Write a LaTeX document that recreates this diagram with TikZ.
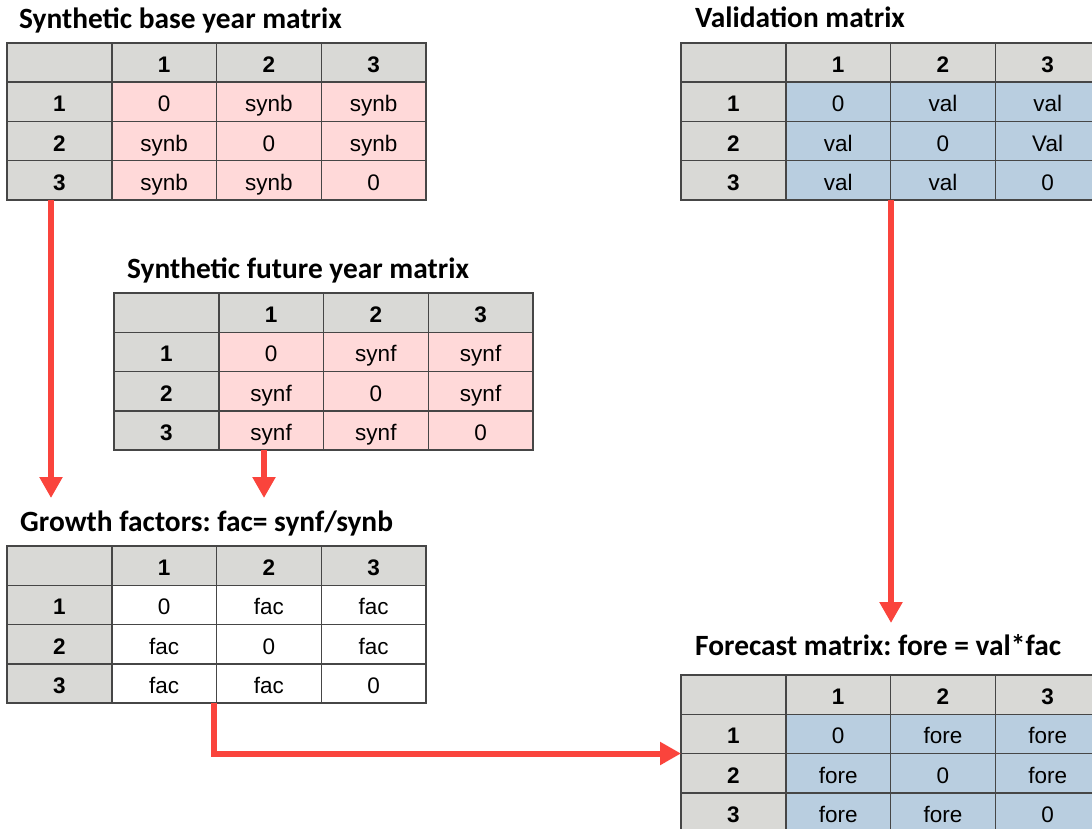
\documentclass[tikz,border=0pt]{standalone}
\usepackage{fontspec}
\setmainfont{Liberation Sans}
\newfontfamily\titlefont{Carlito}
\usetikzlibrary{arrows.meta}
\frenchspacing

\definecolor{hdr}{RGB}{217,217,214}
\definecolor{pinkcell}{RGB}{255,217,217}
\definecolor{bluecell}{RGB}{185,206,224}
\definecolor{rulegray}{RGB}{70,70,70}
\definecolor{flowred}{RGB}{250,68,60}

\tikzset{
  cell/.style={draw=rulegray, line width=1.5pt, minimum width=104.75pt,
    minimum height=39.25pt, inner sep=0pt, outer sep=0pt, anchor=north west,
    text height=20pt, text depth=0pt, font=\fontsize{22.5}{27}\selectfont},
  headcell/.style={cell, fill=hdr, font=\fontsize{22.5}{27}\selectfont\bfseries},
  title/.style={anchor=base west, inner sep=0pt,
    font=\titlefont\bfseries\fontsize{29.4}{34}\selectfont},
  flow/.style={draw=flowred, line width=6pt, line join=miter,
    -{Triangle[width=22pt,length=21pt]}},
}

% 4x4 table: grey header row and column, 3x3 body filled with #4
% #1 name prefix, #2 left, #3 top, #4 body fill, #5 nine body entries
\newcommand\gridtable[5]{%
  \node[headcell] (#1-0-0) at (#2,#3) {};
  \foreach \cc in {1,2,3}{
    \node[headcell] (#1-0-\cc) at ({#2+\cc*104.75},#3) {\cc};
  }
  \foreach \vv [count=\kk from 0] in {#5}{
    \pgfmathtruncatemacro\rowi{int(\kk/3)+1}
    \pgfmathtruncatemacro\coli{mod(\kk,3)+1}
    \node[cell, fill=#4] (#1-\rowi-\coli) at ({#2+\coli*104.75},{#3+\rowi*39.25}) {\vv};
  }
  \foreach \rr in {1,2,3}{
    \node[headcell] (#1-\rr-0) at (#2,{#3+\rr*39.25}) {\rr};
  }
}

\begin{document}
\begin{tikzpicture}[x=1pt,y=-1pt]
\clip (0,0) rectangle (1092,829);
\fill[white] (0,0) rectangle (1092,829);

% titles
\node[title] (basetitle) at (19,29) {Synthetic base year matrix};
\node[title] (valtitle) at (695,28) {Validation matrix};
\node[title] (futtitle) at (127,278) {Synthetic future year matrix};
\node[title] (grotitle) at (20,531) {Growth factors: fac= synf/synb};
\node[title] (foretitle) at (695,655) {Forecast matrix: fore = val*fac};

% tables
\gridtable{base}{7}{43}{pinkcell}{0,synb,synb,synb,0,synb,synb,synb,0}
\gridtable{val}{681}{43}{bluecell}{0,val,val,val,0,Val,val,val,0}
\gridtable{fut}{114}{293}{pinkcell}{0,synf,synf,synf,0,synf,synf,synf,0}
\gridtable{gro}{7}{546}{white}{0,fac,fac,fac,0,fac,fac,fac,0}
\gridtable{fore}{681}{675}{bluecell}{0,fore,fore,fore,0,fore,fore,fore,0}

% flow arrows
\coordinate (a1end) at (51,498);
\coordinate (a2end) at (264,498);
\coordinate (a3end) at (891,623);
\coordinate (a4bend) at (214,753);
\draw[flow] (a1end |- base-3-0.south) -- (a1end);
\draw[flow] (a2end |- fut-3-1.south) -- (a2end);
\draw[flow] (a3end |- val-3-1.south) -- (a3end);
\draw[flow] (a4bend |- gro-3-1.south) |- (fore-1-0.south west);
\end{tikzpicture}
\end{document}
